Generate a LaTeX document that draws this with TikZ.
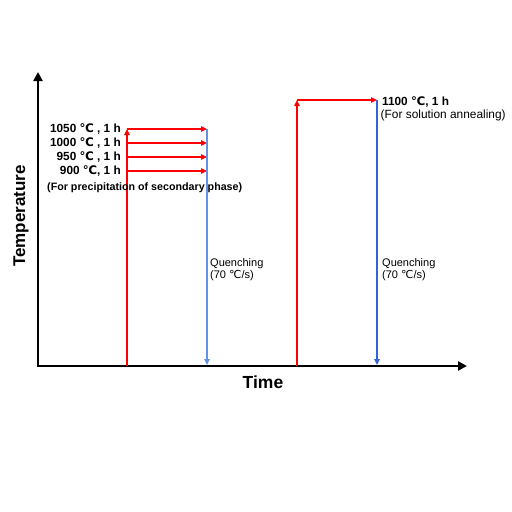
\documentclass[tikz,border=0pt]{standalone}
\usepackage{fontspec}
\setmainfont{Liberation Sans}
\newfontfamily\symfont{DejaVu Sans}
\usetikzlibrary{arrows.meta}
\newcommand{\degC}{{\symfont\char"2103}}
\definecolor{redA}{RGB}{255,0,0}
\definecolor{blueA}{RGB}{100,145,225}
\definecolor{blueB}{RGB}{50,100,215}
\tikzset{
  axis/.style={line width=2.6pt,-{Triangle[length=9pt,width=9pt]}},
  tip/.style={-{Triangle[length=6pt,width=5.5pt]}},
  heat/.style={redA,line width=1.1pt,tip},
  heatB/.style={redA,line width=2pt,tip},
  quench/.style={blueA,line width=1.3pt,tip},
  quenchB/.style={blueB,line width=1.8pt,tip},
  lbl/.style={font=\fontsize{11.8}{14}\selectfont\bfseries,inner sep=0pt},
  note/.style={font=\fontsize{10.7}{12}\selectfont\bfseries,inner sep=0pt},
  qlbl/.style={font=\fontsize{11}{12.5}\selectfont,inner sep=0pt,align=left},
  albl/.style={font=\fontsize{11.9}{14}\selectfont,inner sep=0pt}
}
\begin{document}
\begin{tikzpicture}[x=1pt,y=-1pt]
\useasboundingbox (0,0) rectangle (512,512);
% axes
\coordinate (O) at (38,366);
\coordinate (Ytop) at (38,72);
\coordinate (Xend) at (467,366);
\draw[axis] (O) -- (Ytop);
\draw[axis] ([xshift=-1.3pt]O) -- (Xend);
\node[font=\fontsize{17.5}{20}\selectfont\bfseries,inner sep=0pt] (time) at (263,382) {Time};
\node[font=\fontsize{17}{20}\selectfont\bfseries,inner sep=0pt,rotate=90] (temp) at (21,216) {Temperature};
% first treatment
\coordinate (r1b) at (127,366);
\coordinate (r1t) at (127,129);
\coordinate (b1t) at (207,129);
\coordinate (b1b) at (207,365);
\draw[heat] (r1b) -- (r1t);
\foreach \yy/\nm in {129/a,143/b,157/c,171/d}{
  \coordinate (s\nm) at (127,\yy);
  \coordinate (e\nm) at (207,\yy);
  \draw[heat] (s\nm) -- (e\nm);
}
\draw[quench] (b1t) -- (b1b);
\node[lbl,anchor=east] (t1) at (121,129) {1050 \degC\ , 1 h};
\node[lbl,anchor=east] (t2) at (121,143) {1000 \degC\ , 1 h};
\node[lbl,anchor=east] (t3) at (121,157) {950 \degC\ , 1 h};
\node[lbl,anchor=east] (t4) at (121,171) {900 \degC, 1 h};
\node[note,anchor=west] (n1) at (47,188) {(For precipitation of secondary phase)};
\node[qlbl,anchor=north west] (q1) at (210,258) {Quenching\\(70 \degC/s)};
% second treatment
\coordinate (r2b) at (297,366);
\coordinate (r2t) at (297,100);
\coordinate (b2t) at (377,100);
\coordinate (b2b) at (377,365);
\draw[heatB] (r2b) -- (r2t);
\draw[heatB] (r2t) -- (b2t);
\draw[quenchB] (b2t) -- (b2b);
\node[lbl,anchor=west] (t5) at (382,102) {1100 \degC, 1 h};
\node[albl,anchor=west] (n2) at (380.5,115.5) {(For solution annealing)};
\node[qlbl,anchor=north west] (q2) at (382,258) {Quenching\\(70 \degC/s)};
\end{tikzpicture}
\end{document}
